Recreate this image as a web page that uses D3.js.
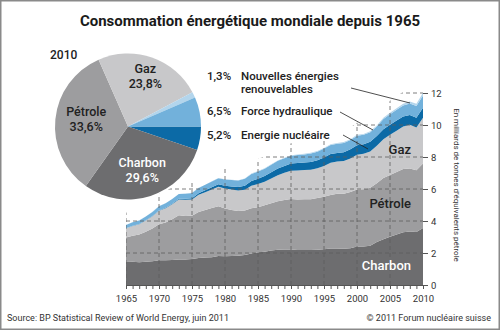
<!DOCTYPE html>
<html>
<head>
<meta charset="utf-8">
<script src="https://cdn.jsdelivr.net/npm/d3@7"></script>
<style>
  body { margin: 0; background: #fff; }
  svg { display: block; font-family: Roboto, "DejaVu Sans", sans-serif; }
</style>
</head>
<body>
<svg width="500" height="330"></svg>
<script>
// Consommation mondiale, en millions de tonnes d'équivalent pétrole
const years = d3.range(1965, 2011)

const charbon = [1440,1450,1420,1450,1490,1550,1540,1560,1600,1600,1620,1680,1720,1740,1810,1800,1810,1830,1880,1970,
  2040,2080,2150,2200,2220,2220,2190,2180,2190,2200,2240,2280,2280,2260,2290,2400,2410,2460,2680,2860,3010,3160,3300,3340,3310,3560]
const petrole = [1530,1633,1733,1874,2034,2252,2372,2547,2754,2720,2706,2876,2971,3066,3105,2978,2879,2800,2777,2832,
  2818,2898,2954,3041,3091,3149,3149,3182,3165,3230,3276,3350,3425,3437,3517,3566,3580,3612,3685,3825,3872,3909,3953,3941,3868,4028]
const gaz = [570,610,650,710,780,840,890,940,990,1010,1020,1080,1110,1160,1230,1260,1280,1280,1300,1400,
  1450,1470,1550,1620,1700,1770,1810,1820,1850,1860,1920,2010,2010,2050,2100,2180,2210,2270,2340,2430,2510,2570,2650,2730,2660,2860]
const nucleaire = [6,8,9,12,14,18,25,35,45,57,83,96,120,140,146,161,195,215,250,300,
  340,365,395,420,430,453,470,475,490,500,525,545,540,550,570,585,600,610,600,625,627,635,622,619,614,626]
const hydraulique = [209,220,226,234,246,266,277,290,297,322,328,333,341,366,382,390,398,409,427,443,
  453,460,465,477,478,490,502,500,530,535,563,571,578,583,589,601,589,599,604,636,659,680,696,717,736,776]
const renouvelables = [5,5,6,6,7,8,8,9,9,10,10,11,11,12,13,15,16,18,20,22,
  25,27,29,31,33,35,37,39,41,43,45,47,48,50,51,52,55,59,64,71,80,90,105,120,140,159]

// Parts 2010 (camembert), dans le sens horaire depuis 3 heures
const pieNames = ['Energie nucléaire', 'Charbon', 'Pétrole', 'Gaz', 'Nouvelles énergies renouvelables', 'Force hydraulique']
const pieShares = [5.2, 29.6, 33.6, 23.8, 1.3, 6.5]

const keys = ['charbon', 'petrole', 'gaz', 'nucleaire', 'hydraulique', 'renouvelables']
const colors = {
  charbon: '#6d6d6f',
  petrole: '#9d9d9f',
  gaz: '#c8c8ca',
  nucleaire: '#0c6aa6',
  hydraulique: '#72b1db',
  renouvelables: '#b3d5ec'
}
const pieColors = [colors.nucleaire, colors.charbon, colors.petrole, colors.gaz, colors.renouvelables, colors.hydraulique]

const yTicks = [0, 2, 4, 6, 8, 10, 12]
const xLabels = [1965, 1970, 1975, 1980, 1985, 1990, 1995, 2000, 2005, 2010]

const svg = d3.select('svg')

// cadre
svg.append('rect')
  .attr('x', 0.75).attr('y', 0.75)
  .attr('width', 498.5).attr('height', 328.5)
  .attr('fill', '#fff').attr('stroke', '#8a8a8a').attr('stroke-width', 1.5)

svg.append('text')
  .attr('x', 250).attr('y', 26)
  .attr('text-anchor', 'middle')
  .attr('font-size', 15).attr('font-weight', 'bold').attr('fill', '#1a1a1a')
  .text('Consommation énergétique mondiale depuis 1965')

// ---- graphique empilé ----
const rows = years.map((yr, i) => ({
  year: yr,
  charbon: charbon[i] / 1000,
  petrole: petrole[i] / 1000,
  gaz: gaz[i] / 1000,
  nucleaire: nucleaire[i] / 1000,
  hydraulique: hydraulique[i] / 1000,
  renouvelables: renouvelables[i] / 1000
}))

const x = d3.scaleLinear().domain([1965, 2010]).range([126, 423])
const y = d3.scaleLinear().domain([0, 12]).range([285, 93])

const stacked = d3.stack().keys(keys)(rows)

const area = d3.area()
  .x(d => x(d.data.year))
  .y0(d => y(d[0]))
  .y1(d => y(d[1]))

svg.append('g')
  .selectAll('path')
  .data(stacked)
  .join('path')
    .attr('d', area)
    .attr('fill', d => colors[d.key])

// les lignes pointillées ne dépassent pas trop la courbe
const topLayer = stacked[stacked.length - 1]
svg.append('clipPath')
  .attr('id', 'gridclip')
  .append('path')
    .attr('d', d3.area()
      .x(d => x(d.data.year))
      .y0(y(0))
      .y1(d => y(d[1] + 0.75))(topLayer))

const grid = svg.append('g')
  .attr('clip-path', 'url(#gridclip)')
  .attr('stroke', '#5e5e5e')
  .attr('stroke-width', 0.8)
  .attr('stroke-dasharray', '4,3')

grid.selectAll('.v')
  .data(xLabels.slice(0, -1))
  .join('line')
    .attr('class', 'v')
    .attr('x1', d => x(d)).attr('x2', d => x(d))
    .attr('y1', y(0)).attr('y2', y(12))

grid.selectAll('.h')
  .data(yTicks.slice(1))
  .join('line')
    .attr('class', 'h')
    .attr('x1', x(1965)).attr('x2', x(2010))
    .attr('y1', d => y(d)).attr('y2', d => y(d))

// axe des années
const xAxis = svg.append('g')
  .attr('transform', `translate(0,${y(0)})`)
  .call(d3.axisBottom(x)
    .tickValues(years)
    .tickSize(4)
    .tickPadding(6)
    .tickFormat(d => d % 5 === 0 ? d : ''))
xAxis.selectAll('path, line').attr('stroke', '#555')
xAxis.selectAll('text')
  .attr('font-family', 'Roboto, sans-serif')
  .attr('font-size', 9.5).attr('fill', '#333')

// axe de droite
const yAxis = svg.append('g')
  .attr('transform', `translate(${x(2010)},0)`)
  .call(d3.axisRight(y).tickValues(yTicks).tickSize(5).tickPadding(3))
yAxis.select('.domain').remove()
yAxis.selectAll('line').attr('stroke', '#555')
yAxis.selectAll('text')
  .attr('font-family', 'Roboto, sans-serif')
  .attr('font-size', 9.5).attr('fill', '#333')

svg.append('text')
  .attr('transform', 'translate(454,185) rotate(90)')
  .attr('text-anchor', 'middle')
  .attr('font-size', 8).attr('fill', '#333')
  .text('En milliards de tonnes d\u2019équivalents pétrole')

// étiquettes dans les surfaces
const areaLabels = [
  { text: 'Gaz', y: 154, fill: '#222' },
  { text: 'Pétrole', y: 208, fill: '#222' },
  { text: 'Charbon', y: 270, fill: '#fff' }
]
svg.append('g')
  .selectAll('text')
  .data(areaLabels)
  .join('text')
    .attr('x', 411).attr('y', d => d.y)
    .attr('text-anchor', 'end')
    .attr('font-size', 13).attr('font-weight', 500)
    .attr('fill', d => d.fill)
    .text(d => d.text)

// ---- camembert 2010 ----
const pieG = svg.append('g').attr('transform', 'translate(128,126.5)')
const pie = d3.pie().sort(null)
  .startAngle(Math.PI / 2).endAngle(Math.PI / 2 + 2 * Math.PI)
const arcs = pie(pieShares)
const arc = d3.arc().innerRadius(0).outerRadius(73)

pieG.selectAll('path')
  .data(arcs)
  .join('path')
    .attr('d', arc)
    .attr('fill', (d, i) => pieColors[i])

const fmt = v => String(v).replace('.', ',') + '%'
// rayon de placement et décalage vertical des étiquettes internes
const inside = [
  { i: 1, r: 46, dy: 0, fill: '#fff' },
  { i: 2, r: 42, dy: -3, fill: '#222' },
  { i: 3, r: 53, dy: 0, fill: '#222' }
]
inside.forEach(l => {
  const [cx, cy] = d3.arc().innerRadius(l.r).outerRadius(l.r).centroid(arcs[l.i])
  const t = pieG.append('text')
    .attr('text-anchor', 'middle')
    .attr('font-size', 12.5).attr('font-weight', 500)
    .attr('fill', l.fill)
  t.append('tspan').attr('x', cx).attr('y', cy + l.dy - 3).text(pieNames[l.i])
  t.append('tspan').attr('x', cx).attr('y', cy + l.dy + 12).text(fmt(pieShares[l.i]))
})

svg.append('text')
  .attr('x', 50).attr('y', 59)
  .attr('font-size', 12).attr('font-weight', 500).attr('fill', '#222')
  .text('2010')

// légende des petites parts avec traits de rappel
const notes = [
  { idx: 4, lines: ['Nouvelles énergies', 'renouvelables'], y: 79.5, from: [351, 88], to: [410, 103] },
  { idx: 5, lines: ['Force hydraulique'], y: 115, from: [340, 112], to: [373, 130] },
  { idx: 0, lines: ['Energie nucléaire'], y: 139, from: [343, 135], to: [368, 149] }
]
const noteG = svg.append('g').attr('font-size', 11.5).attr('font-weight', 500).attr('fill', '#222')
notes.forEach(n => {
  noteG.append('text').attr('x', 207).attr('y', n.y).text(fmt(pieShares[n.idx]))
  n.lines.forEach((l, k) => {
    noteG.append('text').attr('x', 241).attr('y', n.y + k * 13.5).text(l)
  })
  noteG.append('line')
    .attr('x1', n.from[0]).attr('y1', n.from[1])
    .attr('x2', n.to[0]).attr('y2', n.to[1])
    .attr('stroke', '#222').attr('stroke-width', 0.8)
})

// pied de page
svg.append('text')
  .attr('x', 7).attr('y', 321)
  .attr('font-size', 9).attr('fill', '#333')
  .text('Source: BP Statistical Review of World Energy, juin 2011')
svg.append('text')
  .attr('x', 491).attr('y', 321)
  .attr('text-anchor', 'end')
  .attr('font-size', 9).attr('fill', '#333')
  .text('© 2011 Forum nucléaire suisse')
</script>
</body>
</html>
